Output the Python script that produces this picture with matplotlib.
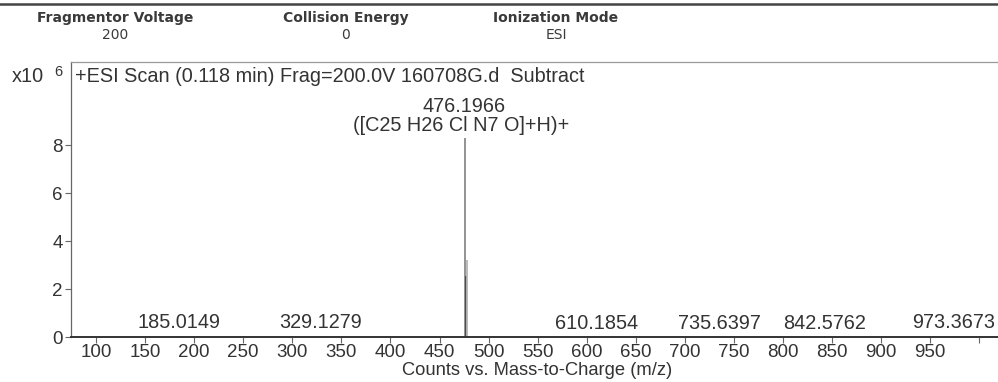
#!/usr/bin/env python3

import numpy as np
import matplotlib.pyplot as plt
from matplotlib.lines import Line2D

# acquisition header
header_names = ['Fragmentor Voltage', 'Collision Energy', 'Ionization Mode']
header_values = ['200', '0', 'ESI']
header_x = [115, 346, 556]

# centroided peaks (m/z, counts)
mz = np.array([185.0149, 329.1279, 476.1966, 477.2000, 478.1940, 497.0,
               610.1854, 735.6397, 842.5762, 973.3673])
counts = np.array([0.06e6, 0.05e6, 8.30e6, 2.55e6, 3.20e6, 0.06e6,
                   0.04e6, 0.04e6, 0.04e6, 0.05e6])
peak_colors = ['#666666', '#666666', '#8a8a8a', '#444444', '#b5b5b5', '#999999',
               '#666666', '#666666', '#666666', '#666666']

labelled = [185.0149, 329.1279, 610.1854, 735.6397, 842.5762, 973.3673]
base_peak = 476.1966
formula = '([C25 H26 Cl N7 O]+H)+'

xticks = np.arange(100, 1001, 50)
xticklabels = [str(t) if t < 1000 else '' for t in xticks]
yticks = [0, 2, 4, 6, 8]

W, H = 998, 382
fig = plt.figure(figsize=(W / 100, H / 100), dpi=100)
plt.rcParams['font.family'] = ['Liberation Sans', 'DejaVu Sans']

txt = '#333333'
fs = 14.3

# left, top, bottom of the plot frame in pixels
L, T, B = 71, 62, 337
ax = fig.add_axes([L / W, 1 - B / H, (W - L) / W, (B - T) / H])

ax.vlines(mz, 0, counts, colors=peak_colors, linewidth=1.3)

for m in labelled:
    c = counts[mz == m][0]
    ax.annotate(f'{m:.4f}', (m, c), xytext=(0, 2.5), textcoords='offset points',
                ha='center', va='bottom', fontsize=fs, color=txt)

c = counts[mz == base_peak][0]
ax.annotate(formula, (base_peak, c), xytext=(-3, 2), textcoords='offset points',
            ha='center', va='bottom', fontsize=fs, color=txt)
ax.annotate(f'{base_peak:.4f}', (base_peak, c), xytext=(-1, 16),
            textcoords='offset points', ha='center', va='bottom',
            fontsize=fs, color=txt)

ax.text(0.004, 1 - 14 / (B - T),
        '+ESI Scan (0.118 min) Frag=200.0V 160708G.d  Subtract',
        transform=ax.transAxes, ha='left', va='center', fontsize=fs, color=txt)

ax.set_xlim(74.5, 1019)
ax.set_ylim(0, 11.46e6)
ax.set_xticks(xticks)
ax.set_xticklabels(xticklabels, fontsize=13.5, color=txt)
ax.set_yticks([v * 1e6 for v in yticks])
ax.set_yticklabels([str(v) for v in yticks], fontsize=13.5, color=txt)
ax.tick_params(direction='out', length=4, width=0.8, color='#666666', pad=2)
ax.tick_params(axis='x', pad=1)

ax.set_xlabel('Counts vs. Mass-to-Charge (m/z)', fontsize=13.2, color=txt)
ax.xaxis.set_label_coords((537 - L) / (W - L), -0.091)

ax.spines['right'].set_visible(False)
ax.spines['top'].set_color('#9a9a9a')
ax.spines['top'].set_linewidth(0.9)
ax.spines['left'].set_color('#666666')
ax.spines['left'].set_linewidth(0.9)
ax.spines['bottom'].set_color('#333333')
ax.spines['bottom'].set_linewidth(1.4)

fig.text(12 / W, 1 - 76 / H, 'x10', ha='left', va='center', fontsize=fs,
         color=txt)
fig.text(54 / W, 1 - 72 / H, '6', ha='left', va='center', fontsize=10.5,
         color=txt)

# header block
for name, val, x in zip(header_names, header_values, header_x):
    fig.text(x / W, 1 - 18 / H, name, ha='center', va='center', fontsize=10,
             fontweight='bold', family='DejaVu Sans', color='#3a3a3a')
    fig.text(x / W, 1 - 35 / H, val, ha='center', va='center', fontsize=10,
             family='DejaVu Sans', color='#3a3a3a')

fig.add_artist(Line2D([0, 1], [1 - 4 / H, 1 - 4 / H], color='#444444',
                      linewidth=1.8, transform=fig.transFigure))

fig.savefig('out.png', dpi=100)
